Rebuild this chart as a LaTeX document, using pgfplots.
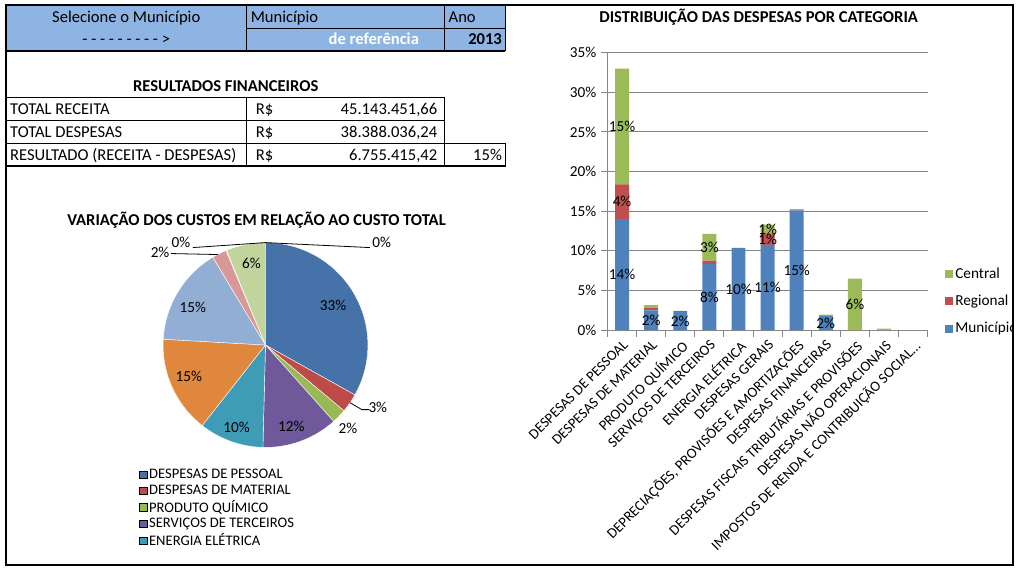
\documentclass[border=0pt]{standalone}
\usepackage{pgfplots}
\pgfplotsset{compat=1.18}
\usepackage{pgfplotstable}
\usepackage{fontspec}
\setmainfont{Carlito}
\newcommand\fs[1]{\fontsize{#1}{#1}\selectfont}
\definecolor{hdr}{HTML}{8DB4E2}
\definecolor{cBlue}{HTML}{4F81BD}
\definecolor{cRed}{HTML}{C0504D}
\definecolor{cGreen}{HTML}{9BBB59}
\definecolor{cPurple}{HTML}{8064A2}
\definecolor{cTeal}{HTML}{4BACC6}
\definecolor{cGray}{HTML}{868686}
\definecolor{pc0}{HTML}{4672AA}
\definecolor{pc1}{HTML}{BE4B48}
\definecolor{pc2}{HTML}{98B954}
\definecolor{pc3}{HTML}{70599A}
\definecolor{pc4}{HTML}{3F9CB6}
\definecolor{pc5}{HTML}{E0873E}
\definecolor{pc6}{HTML}{93AED5}
\definecolor{pc7}{HTML}{D99795}
\definecolor{pc8}{HTML}{B3A2C7}
\definecolor{pc9}{HTML}{93CDDD}
\definecolor{pc10}{HTML}{C0D49C}

% stacked bars: Municipio, Regional, Central (percent of total)
\pgfplotstableread{
x M R C
0 14.0 4.4 14.6
1 2.5 0.35 0.3
2 2.3 0.1 0.03
3 8.36 0.42 3.35
4 10.37 0 0
5 10.75 1.38 1.17
6 15.1 0.05 0.1
7 1.8 0 0.15
8 0 0 6.48
9 0 0 0.2
10 0 0 0
}\bardata

% data labels (segment centres)
\pgfplotstableread{
x y v
0 7.0 14
0 16.2 4
0 25.7 15
1 1.25 2
2 1.15 2
3 4.18 8
3 10.45 3
4 5.18 10
5 5.37 11
5 11.44 1
5 12.7 1
6 7.55 15
7 0.9 2
8 3.24 6
}\barlabels

% pie shares (percent), clockwise from 12 o'clock
\pgfplotstableread{
v
33.1
3.0
2.3
12.0
10.2
15.3
15.5
2.3
0.05
0.05
6.2
}\piedata

\begin{document}
\begin{tikzpicture}
\begin{scope}[x=0.75pt,y=-0.75pt]
\path[use as bounding box] (0,0) rectangle (1024,574);

% ---------- header table ----------
\fill[hdr] (6,5) rectangle (508,51);
\draw[line width=0.75pt] (248,5) -- (248,51) (447,5) -- (447,51) (248,29) -- (508,29) (508,5) -- (508,51);
\draw[line width=1.5pt] (6,51) -- (508,51);
\node[font=\fs{12.5}, anchor=base] at (127,23) {Selecione o Município};
\node[font=\fs{12.5}, anchor=base] at (127,45) {- - - - - - - - - >};
\node[font=\fs{12.5}, anchor=base west, inner sep=0pt] at (252,23) {Município};
\node[font=\fs{12.5}\bfseries, text=white, anchor=base] at (376,45) {de referência};
\node[font=\fs{12.5}, anchor=base west, inner sep=0pt] at (451,23) {Ano};
\node[font=\fs{12.5}\bfseries, anchor=base east, inner sep=0pt] at (505,45) {2013};

% ---------- financial table ----------
\node[font=\fs{12.5}\bfseries, anchor=base] at (227,92) {RESULTADOS FINANCEIROS};
\draw[line width=0.9pt] (6,98) -- (447,98) -- (447,144)
  (6,121) -- (447,121) (6,144) -- (508,144) -- (508,167) -- (6,167)
  (248,98) -- (248,167) (447,144) -- (447,167);
\begin{scope}[every node/.style={font=\fs{12.5}, inner sep=0pt}]
\node[anchor=base west] at (10,115) {TOTAL RECEITA};
\node[anchor=base west] at (10,138) {TOTAL DESPESAS};
\node[anchor=base west] at (10,161) {RESULTADO (RECEITA - DESPESAS)};
\node[anchor=base west] at (257,115) {R\$};
\node[anchor=base west] at (257,138) {R\$};
\node[anchor=base west] at (257,161) {R\$};
\node[anchor=base east] at (440,115) {45.143.451,66};
\node[anchor=base east] at (440,138) {38.388.036,24};
\node[anchor=base east] at (440,161) {6.755.415,42};
\node[anchor=base east] at (505,161) {15\%};
\end{scope}

\node[font=\fs{12.5}\bfseries, anchor=base] at (258,227) {VARIAÇÃO DOS CUSTOS EM RELAÇÃO AO CUSTO TOTAL};
\node[font=\fs{12.5}\bfseries, anchor=base] at (763,23) {DISTRIBUIÇÃO DAS DESPESAS POR CATEGORIA};
\end{scope}

% ---------- pie chart ----------
\gdef\cum{0}
\foreach \i in {0,...,10}{
  \pgfplotstablegetelem{\i}{v}\of\piedata
  \let\vv\pgfplotsretval
  \pgfmathsetmacro\a{90-\cum*3.6}
  \pgfmathsetmacro\b{90-(\cum+\vv)*3.6}
  \expandafter\xdef\csname pa\i\endcsname{\a}
  \expandafter\xdef\csname pb\i\endcsname{\b}
  \pgfmathsetmacro\c{\cum+\vv}
  \xdef\cum{\c}
}
\begin{axis}[at={(200.25pt,-260.25pt)}, anchor=center, width=154.5pt, height=154.5pt,
  scale only axis, hide axis, xmin=-1, xmax=1, ymin=-1, ymax=1, clip=false,
  legend image code/.code={\fill[#1] (0pt,-2.7pt) rectangle (5.4pt,2.7pt);},
  legend style={at={(-0.136,-0.083)}, anchor=north west, draw=none, fill=none,
    font=\fs{11}, row sep=0pt, legend cell align=left,
    nodes={inner sep=1.5pt},
    /tikz/every even column/.append style={column sep=1.5pt}}]
\pgfplotsinvokeforeach{0,...,10}{
  \fill[pc#1, draw=white, line width=0.3pt] (axis cs:0,0) --
    (axis cs:{cos(\csname pa#1\endcsname)},{sin(\csname pa#1\endcsname)})
    arc[start angle=\csname pa#1\endcsname, end angle=\csname pb#1\endcsname, radius=77.25pt] -- cycle;
}
\addlegendimage{fill=pc0}\addlegendentry{DESPESAS DE PESSOAL}
\addlegendimage{fill=pc1}\addlegendentry{DESPESAS DE MATERIAL}
\addlegendimage{fill=pc2}\addlegendentry{PRODUTO QUÍMICO}
\addlegendimage{fill=pc3}\addlegendentry{SERVIÇOS DE TERCEIROS}
\addlegendimage{fill=pc4}\addlegendentry{ENERGIA ELÉTRICA}
\end{axis}

% ---------- bar chart ----------
\begin{axis}[at={(458.25pt,-249pt)}, anchor=south west, width=241.5pt, height=209.25pt,
  scale only axis, ybar stacked, bar width=10.5pt,
  /pgf/number format/assume math mode=true,
  xmin=-0.5, xmax=10.5, ymin=0, ymax=35,
  xtick={0,1,2,3,4,5,6,7,8,9,10},
  xticklabels={DESPESAS DE PESSOAL, DESPESAS DE MATERIAL, PRODUTO QUÍMICO,
    SERVIÇOS DE TERCEIROS, ENERGIA ELÉTRICA, DESPESAS GERAIS,
    {DEPRECIAÇÕES, PROVISÕES E AMORTIZAÇÕES}, DESPESAS FINANCEIRAS,
    DESPESAS FISCAIS TRIBUTÁRIAS E PROVISÕES, DESPESAS NÃO OPERACIONAIS,
    IMPOSTOS DE RENDA E CONTRIBUIÇÃO SOCIAL…},
  minor xtick={-0.5,0.5,1.5,2.5,3.5,4.5,5.5,6.5,7.5,8.5,9.5,10.5},
  ytick={0,5,10,15,20,25,30,35},
  yticklabel={\pgfmathprintnumber{\tick}\%},
  axis x line*=bottom, axis y line*=left,
  axis line style={cGray, line width=0.75pt},
  ymajorgrids, major grid style={cGray, line width=0.75pt},
  tick align=outside, major tick length=5pt, minor tick length=5pt,
  tick style={cGray, line width=0.75pt},
  major x tick style={draw=none},
  xticklabel style={font=\fs{11}, rotate=45, anchor=north east, inner sep=1pt},
  yticklabel style={font=\fs{11.5}},
  legend image code/.code={\fill[#1] (0pt,-3pt) rectangle (6pt,3pt);},
  reverse legend,
  legend style={at={(1.04,0.244)}, anchor=north west, draw=none, fill=none,
    font=\fs{11.5}, row sep=7pt, legend cell align=left,
    /tikz/every even column/.append style={column sep=3pt}}]
\addplot[fill=cBlue, draw=none] table[x=x, y=M]{\bardata};
\addplot[fill=cRed, draw=none] table[x=x, y=R]{\bardata};
\addplot[fill=cGreen, draw=none] table[x=x, y=C]{\bardata};
\legend{Município, Regional, Central}
\end{axis}
\begin{axis}[at={(458.25pt,-249pt)}, anchor=south west, width=241.5pt, height=209.25pt,
  scale only axis, hide axis, xmin=-0.5, xmax=10.5, ymin=0, ymax=35, clip=false,
  /pgf/number format/assume math mode=true]
\addplot[draw=none, mark=none, nodes near coords={\pgfmathprintnumber{\pgfplotspointmeta}\%},
  nodes near coords align=center, point meta=explicit,
  every node near coord/.append style={font=\fs{11.5}, inner sep=0pt, anchor=center}]
  table[x=x, y=y, meta=v]{\barlabels};
\end{axis}

\begin{scope}[x=0.75pt,y=-0.75pt]
% pie labels
\begin{scope}[every node/.style={font=\fs{11.5}, inner sep=0pt}]
\node at (335,307) {33\%};
\node at (253,265) {6\%};
\node at (194,309) {15\%};
\node at (190,379) {15\%};
\node at (238,430) {10\%};
\node at (293,429) {12\%};
\node at (350,431) {2\%};
\node at (380,410) {3\%};
\node at (161,254) {2\%};
\node at (182,244) {0\%};
\node at (384,244) {0\%};
\end{scope}
\draw[line width=0.6pt] (352,405) -- (364,412) -- (371,412);
\draw[line width=0.6pt] (172,255) -- (219,256);
\draw[line width=0.6pt] (194,249) -- (267,244) -- (372,249);
\fill[white] (1020,240) rectangle (1024,345);
\draw[line width=1.6pt] (6,5) rectangle (1019,568);
\end{scope}
\end{tikzpicture}
\end{document}
